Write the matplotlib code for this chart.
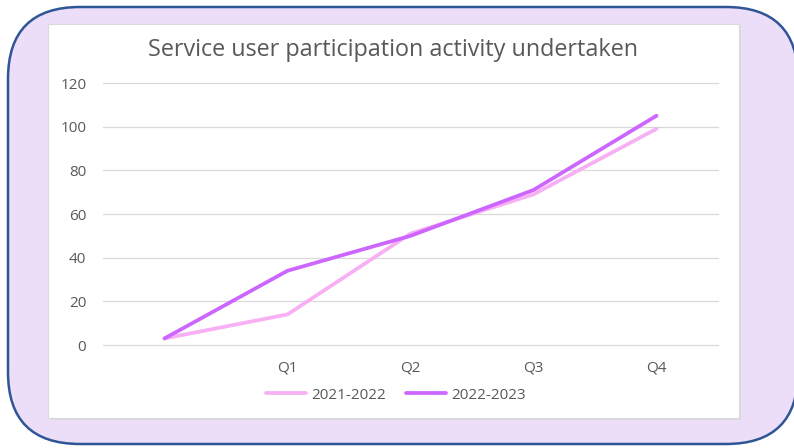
import matplotlib
matplotlib.use('Agg')
import matplotlib.pyplot as plt
from matplotlib.patches import FancyBboxPatch, Rectangle

# chart data
quarters = ['', 'Q1', 'Q2', 'Q3', 'Q4']
activity_2122 = [3, 14, 51, 69, 99]
activity_2223 = [3, 34, 50, 71, 105]
series_labels = ['2021-2022', '2022-2023']
y_ticks = [0, 20, 40, 60, 80, 100, 120]

W, H = 794, 448
plt.rcParams['font.family'] = ['Open Sans', 'DejaVu Sans']
text_grey = '#595959'

fig = plt.figure(figsize=(W / 100, H / 100), dpi=100)

# background: rounded lavender panel with white chart card
bg = fig.add_axes([0, 0, 1, 1])
bg.set_xlim(0, W)
bg.set_ylim(H, 0)
bg.axis('off')
r = 72
panel = FancyBboxPatch((8 + r, 7 + r), 790 - 2 * r, 437 - 2 * r,
                       boxstyle='round,pad=%d' % r, fc='#ECDEF8', ec='#2F5597', lw=1.8)
bg.add_patch(panel)
bg.add_patch(Rectangle((50, 26), 691, 394, fc='#DCDCDC', ec='none'))
bg.add_patch(Rectangle((48, 24), 691, 394, fc='white', ec='#D9D9D9', lw=0.8))

ax = fig.add_axes([103 / W, (H - 345) / H, 615 / W, 262 / H])
ax.set_facecolor('none')
x = range(len(quarters))
ax.plot(x, activity_2122, color='#F8B0F4', lw=2.7, label=series_labels[0],
        solid_capstyle='round', solid_joinstyle='round')
ax.plot(x, activity_2223, color='#CC66FF', lw=2.7, label=series_labels[1],
        solid_capstyle='round', solid_joinstyle='round')

ax.set_xlim(-0.5, len(quarters) - 0.5)
ax.set_ylim(0, 120)
ax.set_yticks(y_ticks)
ax.set_xticks(list(x))
ax.set_xticklabels(quarters)
ax.grid(axis='y', color='#D9D9D9', lw=0.9)
for gl in ax.get_ygridlines():
    gl.set_clip_on(False)
ax.set_axisbelow(True)
for s in ax.spines.values():
    s.set_visible(False)
ax.tick_params(axis='both', length=0, labelsize=11, labelcolor=text_grey)
ax.tick_params(axis='y', pad=12)
ax.tick_params(axis='x', pad=11)

fig.text(393 / W, 1 - 50 / H, 'Service user participation activity undertaken',
         ha='center', va='center', fontsize=16.8, color=text_grey)

leg = fig.legend(loc='center', bbox_to_anchor=(396 / W, 1 - 395 / H), ncol=2,
                 frameon=False, fontsize=11, handlelength=2.6, columnspacing=1.3,
                 handletextpad=0.35)
for t in leg.get_texts():
    t.set_color(text_grey)

plt.savefig('out.png', dpi=100)
plt.close()
